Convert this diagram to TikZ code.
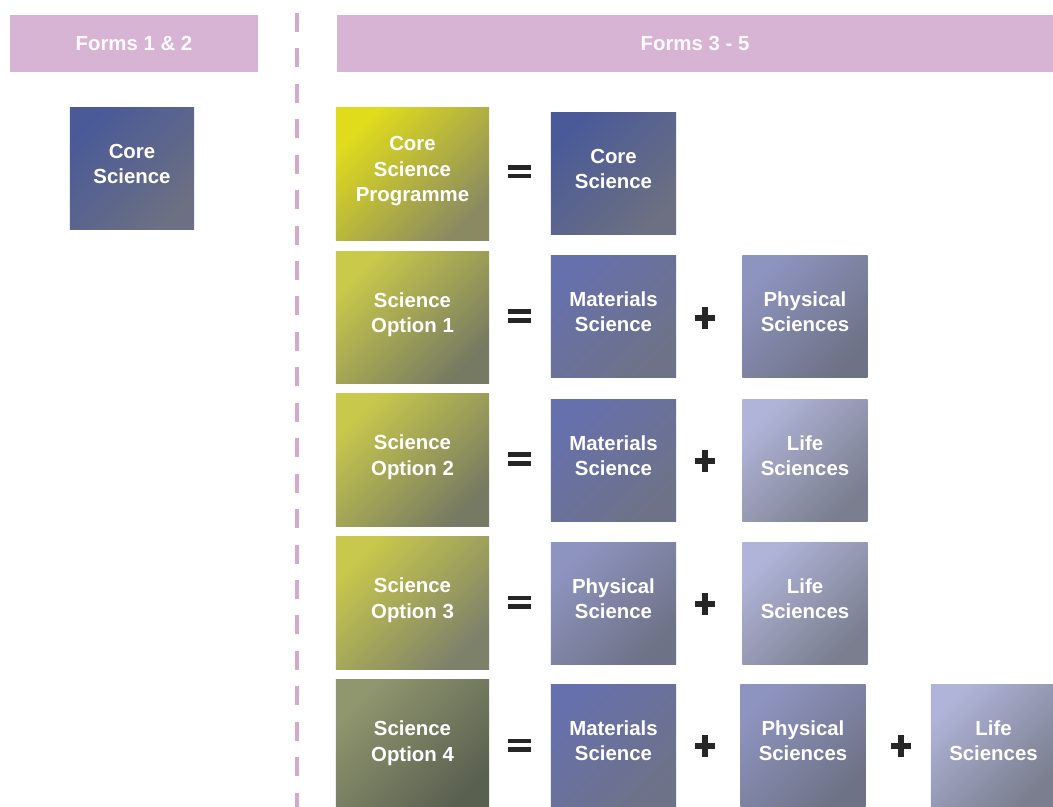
\documentclass[tikz,border=0pt]{standalone}
\usepackage{fontspec}
\setmainfont{Liberation Sans}
\usetikzlibrary{positioning}

\definecolor{formbar}{HTML}{D8B4D4}
\definecolor{formdash}{HTML}{D6A8CC}
\definecolor{signink}{HTML}{262626}
\definecolor{yelA}{HTML}{E0DC1C}\definecolor{yelB}{HTML}{8A8A62}
\definecolor{optA}{HTML}{C8C84C}\definecolor{optB}{HTML}{767A62}
\definecolor{lastA}{HTML}{90966E}\definecolor{lastB}{HTML}{5A6050}
\definecolor{coreA}{HTML}{4A5A98}\definecolor{coreB}{HTML}{6C7082}
\definecolor{matA}{HTML}{6670AC}\definecolor{matB}{HTML}{6E7288}
\definecolor{physA}{HTML}{8E94C0}\definecolor{physB}{HTML}{6E7286}
\definecolor{lifeA}{HTML}{B0B4D8}\definecolor{lifeB}{HTML}{7A7E8E}

\tikzset{
	formhead/.style={fill=formbar, text=white!92!formbar, inner sep=0pt,
		font=\fontsize{14.5}{17}\selectfont\bfseries, minimum height=1.425cm},
	tile/.style 2 args={top color=#1, bottom color=#2, shading angle=45,
		text=white, align=center, inner sep=0pt, text depth=7pt,
		font=\fontsize{14.5}{18}\selectfont\bfseries},
	option/.style 2 args={tile={#1}{#2}, minimum width=3.825cm, minimum height=3.3cm},
	subject/.style 2 args={tile={#1}{#2}, minimum width=3.125cm, minimum height=3.025cm},
	equals/.style={inner sep=0pt, minimum width=0.575cm, minimum height=0.325cm,
		path picture={
			\fill[signink] (path picture bounding box.north west) rectangle ([yshift=-0.11cm]path picture bounding box.north east);
			\fill[signink] (path picture bounding box.south west) rectangle ([yshift=0.11cm]path picture bounding box.south east);
		}},
	plus/.style={inner sep=0pt, minimum width=0.5cm, minimum height=0.53cm,
		path picture={
			\fill[signink] ([xshift=-0.065cm]path picture bounding box.north) rectangle ([xshift=0.065cm]path picture bounding box.south);
			\fill[signink] ([yshift=-0.065cm]path picture bounding box.west) rectangle ([yshift=0.065cm]path picture bounding box.east);
		}}
}

\begin{document}
\begin{tikzpicture}[x=0.025cm, y=-0.025cm]
			%%%%% START %%%%%
			
			\fill[white] (0, 0) rectangle (1053, 807);
			\useasboundingbox (0, 0) rectangle (1053, 807);
			
			% headings
			\node[formhead, minimum width=6.2cm] (forms12) at (134, 43.5) {Forms 1 \& 2};
			\node[formhead, minimum width=17.9cm] (forms35) at (695, 43.5) {Forms 3 - 5};
			
			\draw[formdash, line width=2.85pt, dash pattern=on 13.5pt off 11.7pt] (297, 13) -- (297, 807);
			
			% forms 1 and 2
			\node[subject={coreA}{coreB}, minimum width=3.1cm] (core0) at (132, 168.5) {Core\\Science};
			
			% forms 3 to 5
			\node[option={yelA}{yelB}] (prog) at (412.5, 174) {Core\\Science\\Programme};
			\node[equals] (eq1) at (519.5, 172) {};
			\node[subject={coreA}{coreB}] (core1) at (613.5, 173.5) {Core\\Science};
			
			\node[option={optA!95!yelA}{optB}] (opt1) at (412.5, 317.5) {Science\\Option 1};
			\node[equals] (eq2) at (519.5, 316) {};
			\node[subject={matA}{matB}] (mat2) at (613.5, 316.5) {Materials\\Science};
			\node[plus] (plus2) at (705, 318) {};
			\node[subject={physA}{physB}] (phys2) at (805, 316.5) {Physical\\Sciences};
			
			\node[option={optA}{optB}] (opt2) at (412.5, 460) {Science\\Option 2};
			\node[equals] (eq3) at (519.5, 459) {};
			\node[subject={matA}{matB}] (mat3) at (613.5, 460.5) {Materials\\Science};
			\node[plus] (plus3) at (705, 461) {};
			\node[subject={lifeA}{lifeB}] (life3) at (805, 460.5) {Life\\Sciences};
			
			\node[option={optA}{optB!95!white}] (opt3) at (412.5, 603) {Science\\Option 3};
			\node[equals] (eq4) at (519.5, 602) {};
			\node[subject={physA}{physB}] (phys4) at (613.5, 603.5) {Physical\\Science};
			\node[plus] (plus4) at (705, 604) {};
			\node[subject={lifeA}{lifeB}] (life4) at (805, 603.5) {Life\\Sciences};
			
			\node[option={lastA}{lastB}] (opt4) at (412.5, 746) {Science\\Option 4};
			\node[equals] (eq5) at (519.5, 745) {};
			\node[subject={matA}{matB}] (mat5) at (613.5, 745.5) {Materials\\Science};
			\node[plus] (plus5a) at (705, 746) {};
			\node[subject={physA}{physB}] (phys5) at (803, 745.5) {Physical\\Sciences};
			\node[plus] (plus5b) at (901, 746) {};
			\node[subject={lifeA}{lifeB}] (life5) at (993.5, 745.5) {Life\\Sciences};
			
			%%%%% END %%%%%
		\end{tikzpicture}
\end{document}
